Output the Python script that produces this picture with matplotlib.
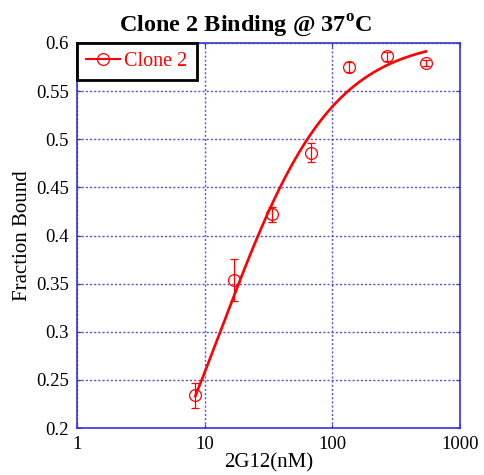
import numpy as np
from matplotlib import pyplot as plt
from matplotlib import ticker

plt.rcParams["font.family"] = ["Liberation Serif", "DejaVu Serif"]
plt.rcParams["mathtext.fontset"] = "custom"
plt.rcParams["mathtext.rm"] = "Liberation Serif"
plt.rcParams["mathtext.bf"] = "Liberation Serif:bold"

# 2G12 concentration series (2-fold dilutions, nM)
conc = [8.4375, 16.875, 33.75, 67.5, 135.0, 270.0, 540.0]
frac_bound = [0.234, 0.354, 0.422, 0.486, 0.575, 0.586, 0.579]
frac_err = [0.013, 0.022, 0.008, 0.010, 0.005, 0.005, 0.003]

# one-site binding fit parameters
bmax = 0.606
kd = 13.5

x_ticks = [1, 10, 100, 1000]
y_ticks = [0.2, 0.25, 0.3, 0.35, 0.4, 0.45, 0.5, 0.55, 0.6]

axis_blue = "#3333dd"

fig = plt.figure(figsize=(4.85, 4.75), dpi=100)
ax = fig.add_axes([0.1588, 0.0989, 0.7897, 0.8106])

xfit = np.logspace(np.log10(conc[0]), np.log10(conc[-1]), 200)
yfit = bmax * xfit / (kd + xfit)
ax.plot(xfit, yfit, color="red", lw=1.9, zorder=3)

ax.errorbar(
    conc,
    frac_bound,
    yerr=frac_err,
    fmt="o",
    color="red",
    mfc="none",
    mec="red",
    ms=8.5,
    mew=0.9,
    elinewidth=0.9,
    capsize=3,
    zorder=4,
)

# legend handle: line through an open circle
ax.plot([], [], "-o", color="red", mfc="none", ms=8.5, mew=0.9, lw=1.5, label="Clone 2")
leg = ax.legend(
    loc="upper left",
    borderaxespad=0,
    fancybox=False,
    framealpha=1,
    fontsize=14.5,
    handlelength=1.7,
    handletextpad=0.2,
    borderpad=0.45,
)
leg.get_frame().set_edgecolor("black")
leg.get_frame().set_linewidth(2)
for t in leg.get_texts():
    t.set_color("red")

ax.set_xscale("log")
ax.set_xlim(1, 1000)
ax.set_ylim(0.2, 0.6)
ax.set_xticks(x_ticks)
ax.xaxis.set_major_formatter(ticker.FixedFormatter([str(v) for v in x_ticks]))
ax.xaxis.set_minor_locator(ticker.NullLocator())
ax.set_yticks(y_ticks)
ax.set_yticklabels([f"{v:g}" for v in y_ticks])

ax.grid(True, color=axis_blue, linestyle=(0, (1.5, 1.5)), lw=1.0, alpha=0.85)
for s in ax.spines.values():
    s.set_color(axis_blue)
    s.set_linewidth(1.2)
ax.tick_params(direction="in", length=3, color=axis_blue, labelsize=13.5, pad=6,
               top=True, right=True)

ax.set_xlabel("2G12(nM)", fontsize=15, labelpad=0)
ax.set_ylabel("Fraction Bound", fontsize=15, labelpad=3)
ax.set_title(r"Clone 2 Binding @ 37$^{\mathbf{o}}$C", fontsize=17.5, fontweight="bold",
             pad=8, x=0.44)

fig.savefig("out.png", dpi=100)
